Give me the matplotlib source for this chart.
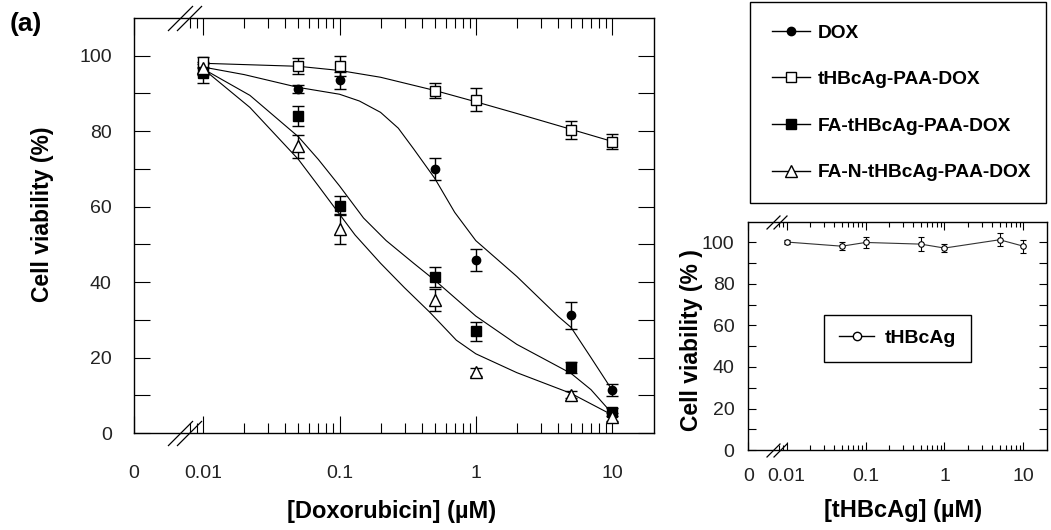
import numpy as np
import matplotlib
matplotlib.use('Agg')
import matplotlib.pyplot as plt
from matplotlib.lines import Line2D
from matplotlib.ticker import NullFormatter
from matplotlib.transforms import blended_transform_factory

plt.rcParams['font.family'] = ['Liberation Sans', 'DejaVu Sans']

# ---------------- data ----------------
conc = [0.01, 0.05, 0.1, 0.5, 1, 5, 10]

dox = [96.0, 91.2, 93.5, 70.0, 45.8, 31.2, 11.4]
dox_err = [1.0, 1.0, 2.3, 2.9, 2.9, 3.5, 1.5]
thb_paa = [98.3, 97.3, 97.3, 90.7, 88.4, 80.3, 77.2]
thb_paa_err = [1.5, 2.2, 2.6, 2.0, 3.0, 2.5, 2.0]
fa = [95.3, 84.1, 60.3, 41.3, 27.0, 17.4, 5.6]
fa_err = [2.6, 2.6, 2.6, 2.6, 2.5, 1.5, 1.0]
fan = [96.8, 76.0, 54.0, 35.3, 16.2, 10.2, 4.3]
fan_err = [1.5, 3.0, 4.0, 3.0, 1.0, 1.0, 1.0]

# fitted curves
dox_fit_x = [0.01, 0.02, 0.05, 0.1, 0.14, 0.2, 0.27, 0.35, 0.5, 0.7, 1, 2, 4, 5, 7, 10]
dox_fit_y = [97.0, 95.0, 91.6, 89.8, 88.0, 85.0, 80.8, 75.3, 67.5, 58.5, 51.0, 41.5, 31.0, 28.0, 20.0, 11.4]
thb_paa_fit_x = [0.01, 0.05, 0.1, 0.2, 0.5, 1, 2, 5, 10]
thb_paa_fit_y = [98.0, 97.2, 96.1, 94.3, 90.8, 87.8, 84.7, 80.5, 77.3]
fa_fit_x = [0.01, 0.022, 0.05, 0.07, 0.1, 0.15, 0.22, 0.35, 0.5, 1, 2, 5, 7, 10]
fa_fit_y = [96.5, 89.5, 78.5, 72.5, 65.5, 57.0, 51.0, 45.0, 40.5, 31.0, 23.5, 15.8, 11.5, 5.2]
fan_fit_x = [0.01, 0.022, 0.05, 0.07, 0.1, 0.13, 0.2, 0.3, 0.46, 0.72, 1, 2, 5, 10]
fan_fit_y = [96.5, 86.3, 72.5, 65.5, 58.0, 52.5, 45.0, 38.5, 32.0, 24.6, 21.0, 16.0, 10.5, 4.8]

thb = [100.2, 98.2, 100.0, 99.2, 97.3, 101.3, 98.2]
thb_err = [0.8, 1.8, 2.5, 3.2, 2.0, 3.2, 3.2]

labels_main = ['DOX', 'tHBcAg-PAA-DOX', 'FA-tHBcAg-PAA-DOX', 'FA-N-tHBcAg-PAA-DOX']
xtick_vals = [0.01, 0.1, 1, 10]
xtick_labels = ['0.01', '0.1', '1', '10']
ytick_vals = [0, 20, 40, 60, 80, 100]

# ---------------- figure ----------------
fig = plt.figure(figsize=(10.51, 5.30), dpi=100)
ax = fig.add_axes([0.1275, 0.183, 0.4948, 0.783])
ax2 = fig.add_axes([0.712, 0.1509, 0.284, 0.4308])

minor_x = [0.008, 0.009] + [m * 10.0 ** e for e in (-2, -1, 0) for m in range(2, 10)]


def style(a, xlo, xhi, ylen, xmaj, xmin_len, xpad, ypad, fs, lw):
    a.set_xscale('log')
    a.set_xlim(xlo, xhi)
    a.set_ylim(0, 110)
    a.set_xticks([xlo] + xtick_vals, labels=['0'] + xtick_labels)
    a.set_xticks(minor_x, minor=True)
    a.xaxis.set_minor_formatter(NullFormatter())
    a.set_yticks(ytick_vals, labels=[str(v) for v in ytick_vals])
    a.set_yticks([10, 30, 50, 70, 90], minor=True)
    a.tick_params(axis='x', which='major', direction='in', top=True, length=xmaj,
                  width=0.8, pad=xpad, labelsize=fs, colors='k', labelcolor='#222222')
    a.tick_params(axis='x', which='minor', direction='in', top=True, length=xmin_len, width=0.8)
    a.tick_params(axis='y', which='both', direction='in', right=True, length=ylen,
                  width=0.8, pad=ypad, labelsize=fs, labelcolor='#222222')
    for s in a.spines.values():
        s.set_linewidth(lw)


style(ax, 10 ** -2.508, 10 ** 1.308, 11.5, 12, 7, 23, 16, 14, 1.0)
style(ax2, 10 ** -2.487, 10 ** 1.297, 6, 6, 3.5, 13, 10, 14, 1.0)

# fits
for fx, fy in [(dox_fit_x, dox_fit_y), (thb_paa_fit_x, thb_paa_fit_y),
               (fa_fit_x, fa_fit_y), (fan_fit_x, fan_fit_y)]:
    ax.plot(fx, fy, color='k', lw=0.8, zorder=2)

ekw = dict(ls='none', ecolor='k', elinewidth=1.0, capsize=4.5, capthick=1.0,
           mec='k', mew=1.0, zorder=3)
ax.errorbar(conc, dox, yerr=dox_err, marker='o', ms=6, mfc='k', **ekw)
ax.errorbar(conc, thb_paa, yerr=thb_paa_err, marker='s', ms=7, mfc='white', **ekw)
ax.errorbar(conc, fa, yerr=fa_err, marker='s', ms=7, mfc='k', **ekw)
ax.errorbar(conc, fan, yerr=fan_err, marker='^', ms=8, mfc='white', **ekw)

ax2.errorbar(conc, thb, yerr=thb_err, marker='o', ms=4, mfc='white', mec='k', mew=0.8,
             color='#333333', lw=0.8, ecolor='k', elinewidth=0.8, capsize=2.5, capthick=0.8, zorder=3)

# axis break marks
def breaks(a, xs, ms):
    tr = blended_transform_factory(a.transData, a.transAxes)
    for xb in xs:
        for yb in (0, 1):
            a.plot([xb], [yb], marker=[(-1, -1), (1, 1)], ms=ms, mew=0.9, color='k',
                   transform=tr, clip_on=False, zorder=5)


breaks(ax, [10 ** -2.167, 10 ** -2.105], 18)
breaks(ax2, [10 ** -2.17, 10 ** -2.085], 10)

# labels
ax.set_xlabel('[Doxorubicin] (µM)', fontsize=17, fontweight='bold')
ax.set_ylabel('Cell viability (%)', fontsize=16.5, fontweight='bold')
ax.xaxis.set_label_coords(0.496, -0.19)
ax.xaxis.label.set_va('center')
ax.yaxis.set_label_coords(-0.175, 0.528)
ax.yaxis.label.set_va('center')

ax2.set_xlabel('[tHBcAg] (µM)', fontsize=17, fontweight='bold')
ax2.set_ylabel('Cell viability (% )', fontsize=16.5, fontweight='bold')
ax2.xaxis.set_label_coords(0.518, -0.263)
ax2.xaxis.label.set_va('center')
ax2.yaxis.set_label_coords(-0.189, 0.482)
ax2.yaxis.label.set_va('center')

fig.text(0.0247, 0.9547, '(a)', fontsize=19, fontweight='bold', ha='center', va='center')

# legends
handles = [
    Line2D([], [], color='k', lw=1, marker='o', ms=6, mfc='k', mec='k'),
    Line2D([], [], color='k', lw=1, marker='s', ms=7, mfc='white', mec='k'),
    Line2D([], [], color='k', lw=1, marker='s', ms=7, mfc='k', mec='k'),
    Line2D([], [], color='k', lw=1, marker='^', ms=8, mfc='white', mec='k'),
]
leg = fig.legend(handles, labels_main, loc='upper left',
                 bbox_to_anchor=(0.7136, 0.6075, 0.2814, 0.3885), mode='expand',
                 frameon=True, fancybox=False, edgecolor='k', framealpha=1,
                 prop=dict(weight='bold', size=13.8), borderpad=1.15, labelspacing=1.52,
                 handlelength=2.0, handletextpad=0.4, borderaxespad=0)
leg.get_frame().set_linewidth(1.0)

h2 = Line2D([], [], color='k', lw=1, marker='o', ms=6, mfc='white', mec='k')
leg2 = ax2.legend([h2], ['tHBcAg'], loc='center', bbox_to_anchor=(0.5, 0.49),
                  frameon=True, fancybox=False, edgecolor='k', framealpha=1,
                  prop=dict(weight='bold', size=14), borderpad=0.75,
                  handlelength=1.8, handletextpad=0.55)
leg2.get_frame().set_linewidth(1.0)

fig.savefig('out.png', dpi=100)
